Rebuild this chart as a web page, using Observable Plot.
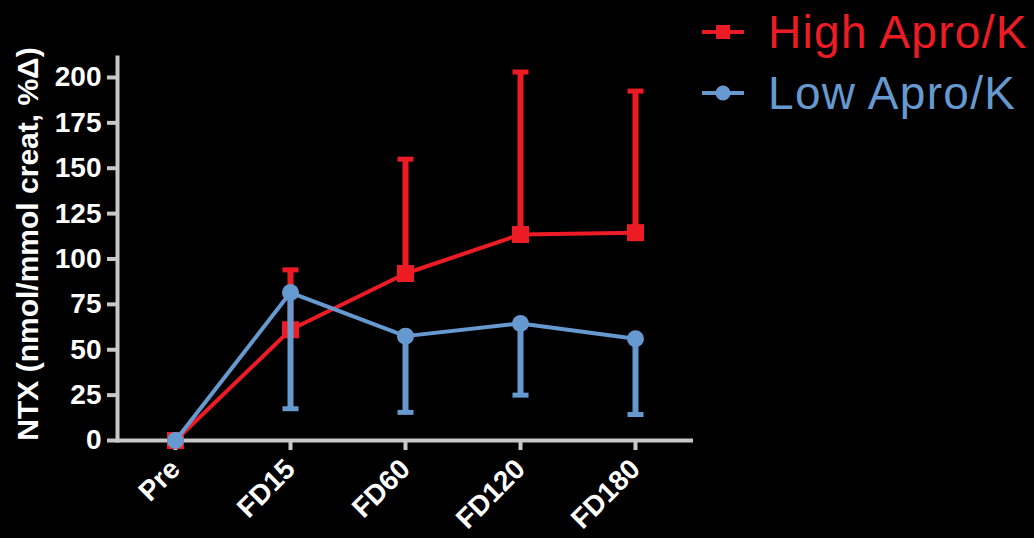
<!DOCTYPE html>
<html>
<head>
<meta charset="utf-8">
<script src="https://cdn.jsdelivr.net/npm/d3@7"></script>
<script src="https://cdn.jsdelivr.net/npm/@observablehq/plot@0.6"></script>
<style>
  html, body { margin: 0; padding: 0; background: #000; }
  #wrap { position: relative; width: 1034px; height: 538px; overflow: hidden; background: #000; }
  #legend { position: absolute; left: 0; top: 0; width: 1034px; height: 140px; pointer-events: none; }
  .lg { position: absolute; left: 702px; display: flex; align-items: center; font-family: "Liberation Sans", Arial, sans-serif; font-size: 46px; letter-spacing: 1.3px; white-space: nowrap; }
  .lg svg { margin-right: 24px; }
</style>
</head>
<body>
<div id="wrap">
  <div id="chart"></div>
  <div id="legend"></div>
</div>
<script>
// ---- data ----
const categories = ["Pre", "FD15", "FD60", "FD120", "FD180"];
const highMean  = [0, 61, 92, 113.5, 114.5];
const highUpper = [null, 94, 155, 203, 192.5];
const lowMean   = [0, 81.5, 57.5, 64.5, 56];
const lowLower  = [null, 17.5, 15.5, 25, 14.3];
const yTicks = [0, 25, 50, 75, 100, 125, 150, 175, 200];
const seriesNames = ["High Apro/K", "Low Apro/K"];
const yLabel = "NTX (nmol/mmol creat, %\u0394)";

const RED = "#ED1C24";
const BLUE = "#6699CF";
const AXIS = "#c8c8c8";

const high = categories.map((c, i) => ({cat: c, mean: highMean[i], err: highUpper[i]}));
const low  = categories.map((c, i) => ({cat: c, mean: lowMean[i], err: lowLower[i]}));
const highErr = high.filter(d => d.err != null);
const lowErr  = low.filter(d => d.err != null);

// error-bar cap: a 16x5 horizontal bar
const capSymbol = {draw(ctx) { ctx.rect(-8, -2.5, 16, 5); }};

const chart = Plot.plot({
  width: 1034,
  height: 538,
  marginLeft: 117,
  marginRight: 341,
  marginTop: 57,
  marginBottom: 98,
  style: {background: "#000", color: "#fff", fontFamily: "'Liberation Sans', Arial, sans-serif", overflow: "visible"},
  x: {type: "point", domain: categories, padding: 0.5},
  y: {domain: [0, 211]},
  marks: [
    Plot.frame({anchor: "left", stroke: AXIS, strokeWidth: 4}),
    Plot.ruleY([0], {stroke: AXIS, strokeWidth: 4}),
    Plot.axisY({ticks: yTicks, tickSize: 10, tickPadding: 6, stroke: AXIS, strokeWidth: 4, fill: "#fff",
      fontSize: 28, fontWeight: "bold", label: null}),
    Plot.axisX({tickSize: 10, tickPadding: 14, tickRotate: -45, stroke: AXIS, strokeWidth: 4, fill: "#fff",
      fontSize: 28, fontWeight: "bold", label: null}),
    Plot.text([yLabel], {frameAnchor: "left", textAnchor: "middle", rotate: -90, dx: -89, dy: -5,
      fill: "#fff", fontSize: 30, fontWeight: "bold"}),
    // High series
    Plot.ruleX(highErr, {x: "cat", y1: "mean", y2: "err", stroke: RED, strokeWidth: 6}),
    Plot.dot(highErr, {x: "cat", y: "err", symbol: capSymbol, fill: RED}),
    Plot.line(high, {x: "cat", y: "mean", stroke: RED, strokeWidth: 4}),
    Plot.dot(high, {x: "cat", y: "mean", symbol: "square", r: 9.6, fill: RED}),
    // Low series
    Plot.ruleX(lowErr, {x: "cat", y1: "mean", y2: "err", stroke: BLUE, strokeWidth: 6}),
    Plot.dot(lowErr, {x: "cat", y: "err", symbol: capSymbol, fill: BLUE}),
    Plot.line(low, {x: "cat", y: "mean", stroke: BLUE, strokeWidth: 4}),
    Plot.dot(low, {x: "cat", y: "mean", symbol: "circle", r: 8.5, fill: BLUE})
  ]
});
document.getElementById("chart").appendChild(chart);

// ---- legend ----
const legend = document.getElementById("legend");
const legendItems = [
  {name: seriesNames[0], color: RED, sym: "square", top: 5},
  {name: seriesNames[1], color: BLUE, sym: "circle", top: 66}
];
for (const it of legendItems) {
  const row = document.createElement("div");
  row.className = "lg";
  row.style.top = it.top + "px";
  row.style.color = it.color;
  const marker = it.sym === "square"
    ? `<rect x="14" y="7" width="14" height="14" fill="${it.color}"/>`
    : `<circle cx="21" cy="14" r="7.5" fill="${it.color}"/>`;
  row.innerHTML = `<svg width="42" height="28"><line x1="0" x2="42" y1="14" y2="14" stroke="${it.color}" stroke-width="4"/>${marker}</svg><span>${it.name}</span>`;
  legend.appendChild(row);
}
</script>
</body>
</html>
